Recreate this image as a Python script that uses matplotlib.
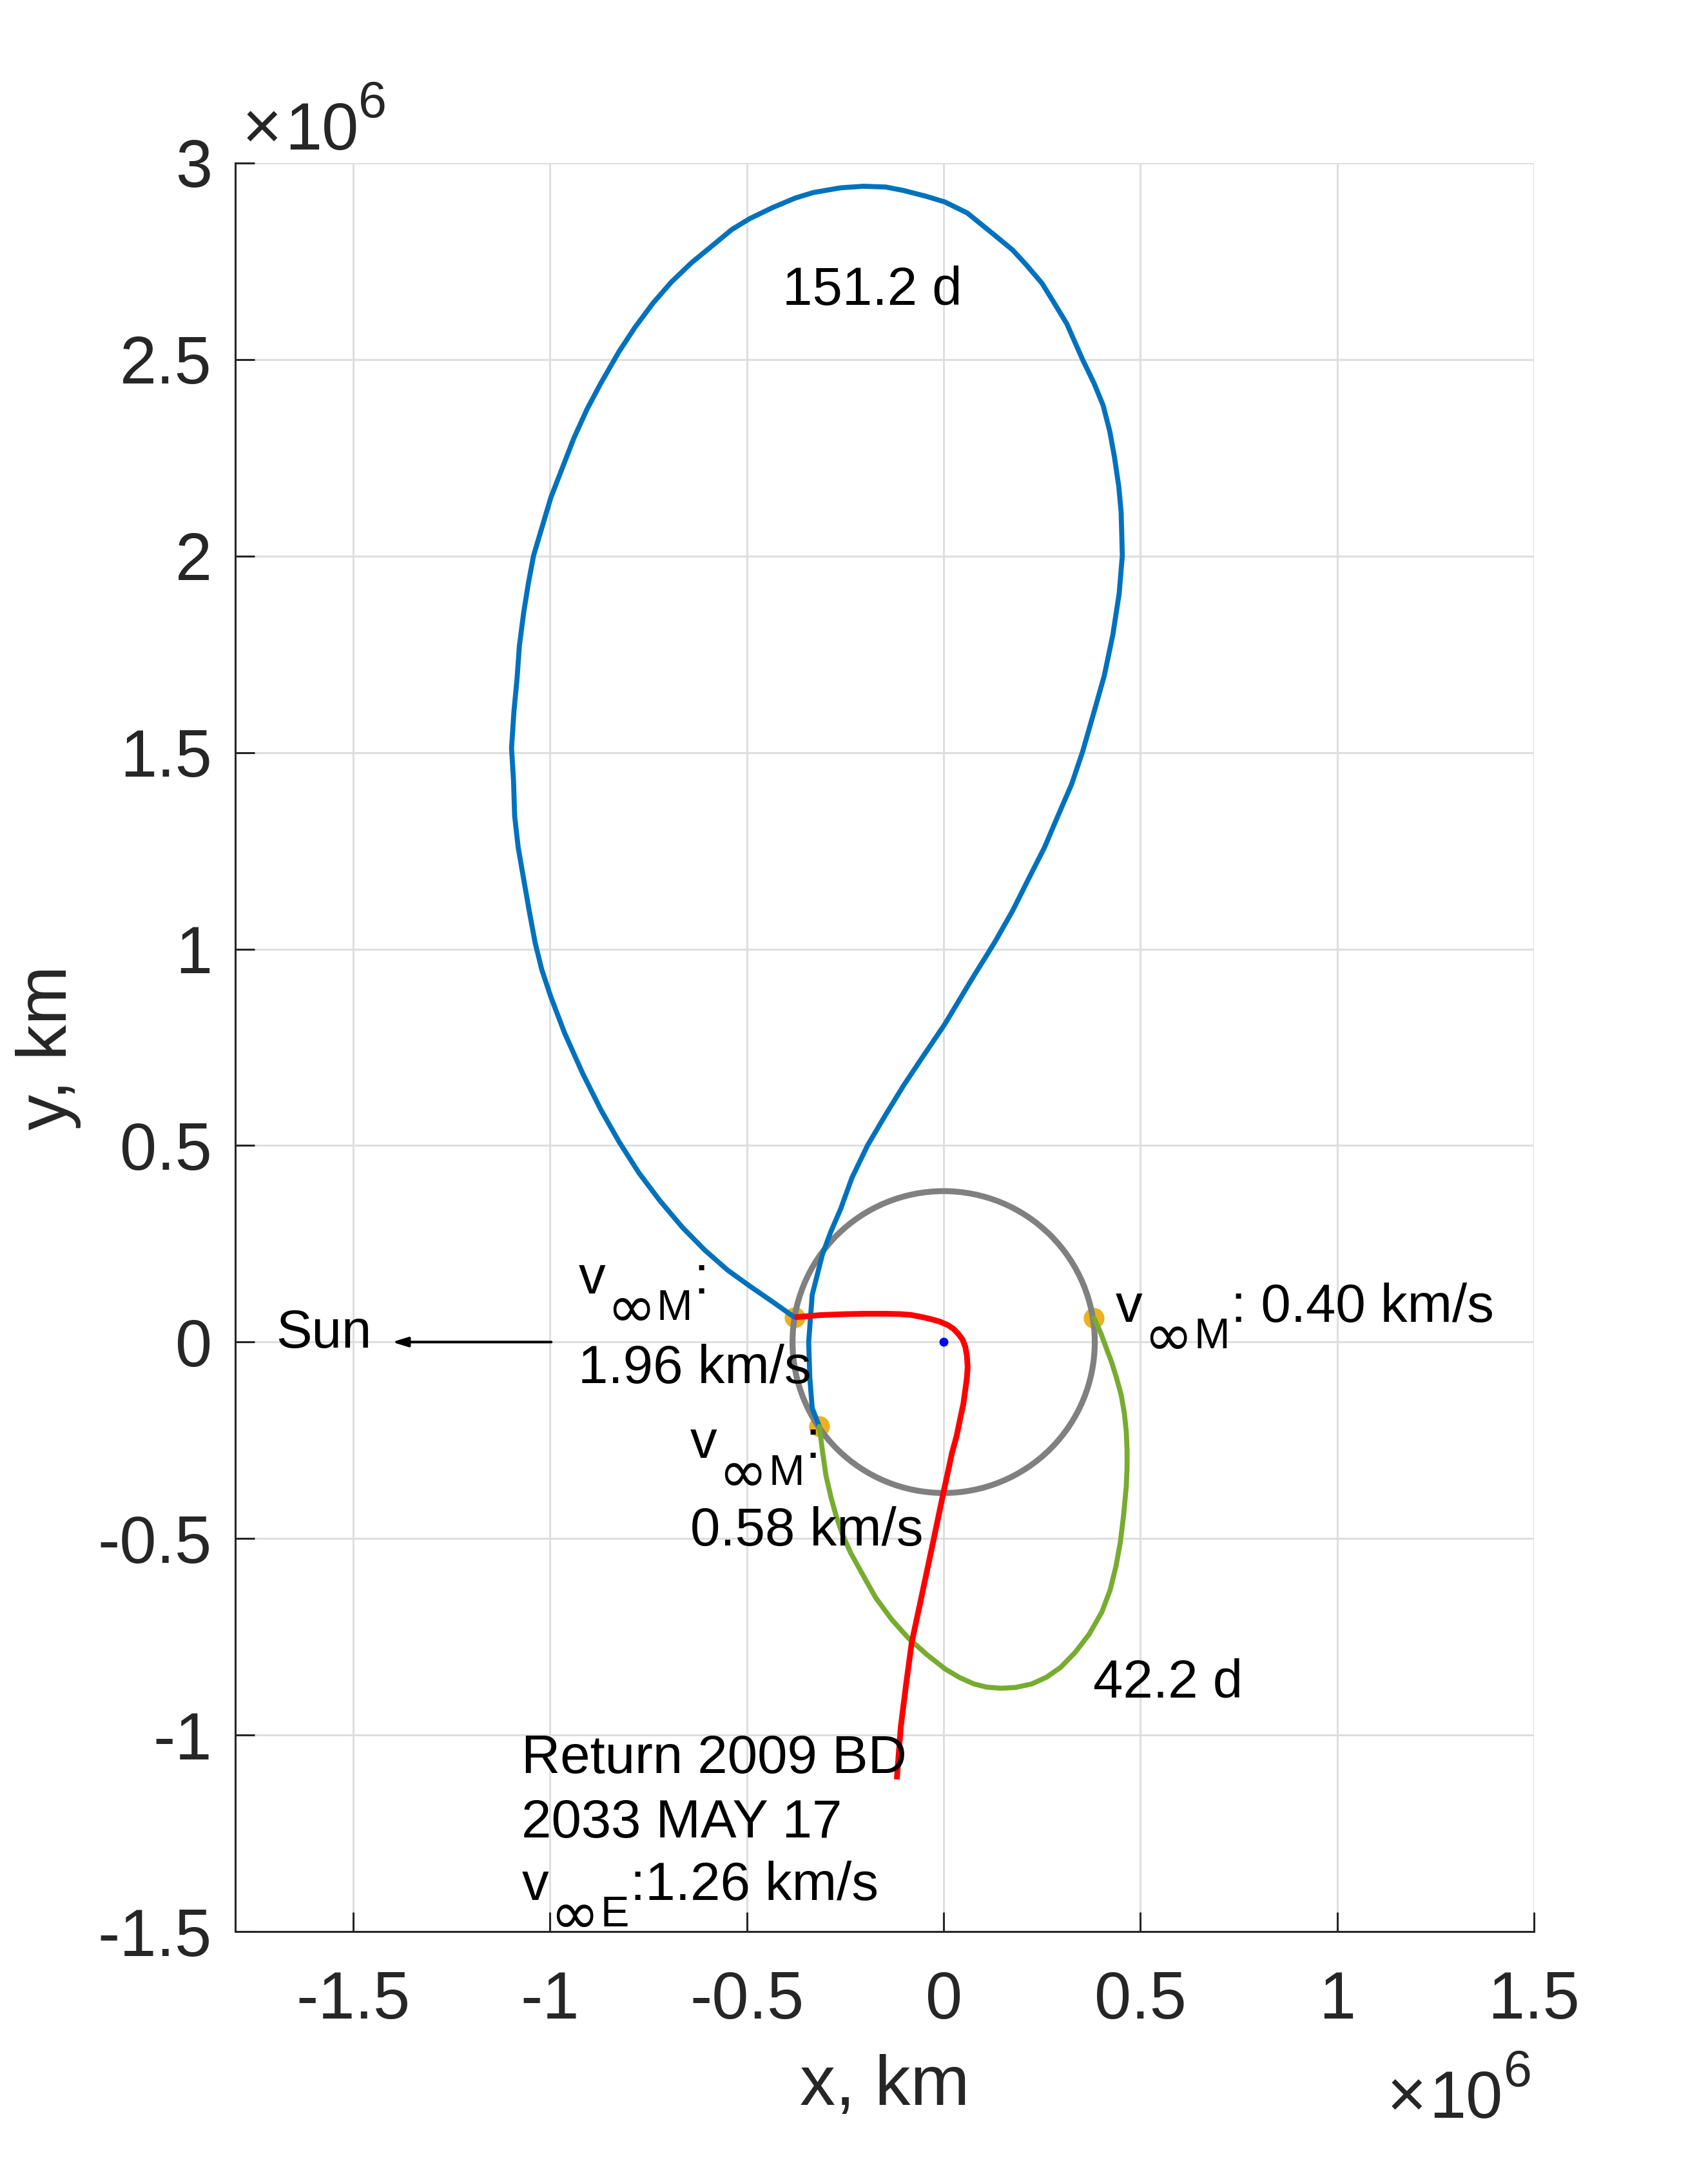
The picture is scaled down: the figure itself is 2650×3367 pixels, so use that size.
import numpy as np
import matplotlib
matplotlib.use('Agg')
import matplotlib.pyplot as plt
from matplotlib.ticker import FixedLocator, FuncFormatter
from matplotlib.patches import Circle

plt.rcParams['font.family'] = ['Liberation Sans', 'DejaVu Sans']

# ---------------- data (units of 1e6 km) ----------------
SCALE = 1e6

# 151.2 d loop (blue)
blue_x = [-0.316, -0.334, -0.340, -0.343, -0.334, -0.308, -0.287, -0.262, -0.233,
          -0.193, -0.147, -0.101, -0.055, 0.003, 0.072, 0.129, 0.175, 0.221, 0.256,
          0.290, 0.325, 0.353, 0.382, 0.408, 0.430, 0.446, 0.454, 0.451,
          0.445, 0.434, 0.422, 0.405, 0.382, 0.353, 0.313, 0.279, 0.250, 0.210,
          0.175, 0.129, 0.060, 0.003, -0.043, -0.101, -0.147, -0.204, -0.262,
          -0.331, -0.377, -0.434, -0.492, -0.538, -0.584, -0.641, -0.692, -0.739,
          -0.785, -0.825, -0.871, -0.906, -0.940, -0.969, -0.998, -1.015, -1.042,
          -1.055, -1.067, -1.078, -1.084, -1.092, -1.098, -1.093, -1.090, -1.081,
          -1.067, -1.053, -1.038, -1.021, -0.998, -0.963, -0.917, -0.871, -0.825,
          -0.774, -0.722, -0.664, -0.607, -0.549, -0.492, -0.434, -0.379]
blue_y = [-0.215, -0.168, -0.092, 0.000, 0.120, 0.223, 0.280, 0.338, 0.418,
          0.501, 0.579, 0.654, 0.723, 0.809, 0.924, 1.016, 1.097, 1.189, 1.258,
          1.338, 1.419, 1.502, 1.603, 1.695, 1.800, 1.905, 2.001, 2.111,
          2.177, 2.252, 2.318, 2.384, 2.440, 2.500, 2.591, 2.647, 2.694, 2.741,
          2.779, 2.817, 2.873, 2.901, 2.915, 2.930, 2.939, 2.941, 2.937,
          2.925, 2.911, 2.887, 2.859, 2.831, 2.793, 2.746, 2.697, 2.643,
          2.581, 2.520, 2.440, 2.374, 2.299, 2.224, 2.149, 2.092, 2.001,
          1.932, 1.857, 1.772, 1.688, 1.603, 1.511, 1.430, 1.338, 1.258,
          1.177, 1.097, 1.016, 0.947, 0.878, 0.786, 0.683, 0.591, 0.510,
          0.430, 0.361, 0.292, 0.234, 0.183, 0.142, 0.102, 0.063]

# 42.2 d loop (green)
green_x = [-0.316, -0.307, -0.299, -0.286, -0.273, -0.257, -0.236, -0.205, -0.173,
           -0.132, -0.090, -0.043, 0.004, 0.041, 0.077, 0.109, 0.145, 0.182, 0.224,
           0.261, 0.297, 0.334, 0.370, 0.402, 0.423, 0.438, 0.449, 0.457, 0.464,
           0.466, 0.466, 0.464, 0.459, 0.451, 0.438, 0.426, 0.412, 0.400, 0.382]
green_y = [-0.215, -0.284, -0.340, -0.396, -0.443, -0.490, -0.537, -0.593, -0.650,
           -0.706, -0.753, -0.795, -0.832, -0.854, -0.870, -0.878, -0.881, -0.879, -0.870,
           -0.853, -0.828, -0.790, -0.743, -0.687, -0.631, -0.570, -0.509, -0.443, -0.368,
           -0.321, -0.274, -0.227, -0.180, -0.134, -0.087, -0.049, -0.012, 0.021, 0.0615]

# return leg (red)
red_x = [-0.379, -0.313, -0.250, -0.198, -0.146, -0.109, -0.083, -0.057, -0.031,
         -0.010, 0.011, 0.025, 0.037, 0.048, 0.055, 0.059, 0.061, 0.059, 0.055,
         0.050, 0.042, 0.033, 0.021, 0.011, 0.0005, -0.027, -0.059, -0.081, -0.095,
         -0.109, -0.119]
red_y = [0.063, 0.0686, 0.071, 0.072, 0.072, 0.071, 0.069, 0.064, 0.058,
         0.052, 0.043, 0.0335, 0.021, 0.0064, -0.012, -0.034, -0.063, -0.092, -0.122,
         -0.158, -0.195, -0.239, -0.283, -0.330, -0.378, -0.510, -0.661, -0.764, -0.868,
         -0.980, -1.113]

# lunar flyby points
flyby_x = [-0.379, 0.382, -0.316]
flyby_y = [0.063, 0.0615, -0.215]

moon_orbit_radius = 0.384
earth_x = [0.0]
earth_y = [0.0]

x_ticks = [-1.5, -1.0, -0.5, 0.0, 0.5, 1.0, 1.5]
y_ticks = [-1.5, -1.0, -0.5, 0.0, 0.5, 1.0, 1.5, 2.0, 2.5, 3.0]
x_limits = [-1.8, 1.5]
y_limits = [-1.5, 3.0]

# ---------------- figure ----------------
W, H, DPI = 2650, 3367, 200
fig = plt.figure(figsize=(W / DPI, H / DPI), dpi=DPI)
ax = fig.add_axes([365 / W, 1 - 2997 / H, (2380 - 365) / W, (2997 - 253) / H])

S = lambda v: np.asarray(v, dtype=float) * SCALE

ax.plot(S(flyby_x), S(flyby_y), 'o', ms=10.6, color='#EDB120', mec='#EDB120', zorder=2)
ax.add_patch(Circle((0, 0), moon_orbit_radius * SCALE, fill=False, ec='#808080',
                    lw=3.3, zorder=3))
ax.plot(S(blue_x), S(blue_y), color='#0072BD', lw=2.8, zorder=4,
        solid_joinstyle='round', solid_capstyle='round')
ax.plot(S(green_x), S(green_y), color='#77AC30', lw=2.8, zorder=5,
        solid_joinstyle='round', solid_capstyle='round')
ax.plot(S(red_x), S(red_y), color='#FF0000', lw=3.2, zorder=6,
        solid_joinstyle='round', solid_capstyle='butt')
ax.plot(S(earth_x), S(earth_y), 'o', ms=4, color='#0000FF', zorder=7)

ax.set_xlim(S(x_limits))
ax.set_ylim(S(y_limits))

fmt = FuncFormatter(lambda v, p: f'{v / SCALE:g}')
ax.xaxis.set_major_locator(FixedLocator(S(x_ticks)))
ax.yaxis.set_major_locator(FixedLocator(S(y_ticks)))
ax.xaxis.set_major_formatter(fmt)
ax.yaxis.set_major_formatter(fmt)

AX_COL = '#262626'
ax.grid(True, color='#dedede', lw=1.1)
ax.set_axisbelow(True)
for side in ['top', 'right']:
    ax.spines[side].set_visible(False)
for side in ['left', 'bottom']:
    ax.spines[side].set_color(AX_COL)
    ax.spines[side].set_linewidth(1.1)
ax.tick_params(direction='in', length=10.8, width=1.1, colors=AX_COL, labelsize=37)
ax.tick_params(axis='x', pad=21.6)
ax.tick_params(axis='y', pad=13)

ax.set_xlabel('x, km', fontsize=39.7, color=AX_COL)
ax.set_ylabel('y, km', fontsize=39.7, color=AX_COL)
ax.xaxis.set_label_coords(0.5, -0.0691)
ax.yaxis.set_label_coords(-0.1188, 0.5)


# exponent labels (x10^6)
def fig_text(px, py, s, fs):
    fig.text(px / W, 1 - py / H, s, fontsize=fs, color=AX_COL, ha='left', va='baseline')


for (xx, x10, x6, base, sup) in [(376, 442.5, 556, 232, 182),
                                 (2152, 2217, 2332.6, 3286, 3237.4)]:
    fig_text(xx, base, '\u00d7', 38)
    fig_text(x10, base, '10', 37)
    fig_text(x6, sup, '6', 28.5)

# ---------------- annotations ----------------
FS = 30
SUB_FS = 24
SUB_DROP = 14.9  # points


def chain(prev, s, y, dy, fs, family=None):
    kw = {}
    if family:
        kw['family'] = family
    return ax.annotate(s, xy=(1, y * SCALE), xycoords=(prev, 'data'),
                       xytext=(0.6, dy), textcoords='offset points',
                       fontsize=fs, ha='left', va='baseline', color='k', zorder=8, **kw)


def vinf_label(x, y, sub, tail):
    t1 = ax.text(x * SCALE, y * SCALE, 'v', fontsize=FS, ha='left', va='baseline',
                 color='k', zorder=8)
    t2 = chain(t1, '\u221e', y, -SUB_DROP - 4.0, 33, family=['DejaVu Sans'])
    t3 = chain(t2, sub, y, -SUB_DROP, SUB_FS)
    chain(t3, tail, y, 0, FS)


def plain(x, y, s):
    ax.text(x * SCALE, y * SCALE, s, fontsize=FS, ha='left', va='baseline',
            color='k', zorder=8)


plain(-0.409, 2.640, '151.2 d')
plain(0.380, -0.904, '42.2 d')
plain(-1.697, -0.014, 'Sun')

vinf_label(-0.928, 0.124, 'M', ':')
plain(-0.928, -0.105, '1.96 km/s')

vinf_label(-0.644, -0.295, 'M', ':')
plain(-0.644, -0.518, '0.58 km/s')

vinf_label(0.437, 0.0515, 'M', ': 0.40 km/s')

plain(-1.073, -1.096, 'Return 2009 BD')
plain(-1.073, -1.260, '2033 MAY 17')
vinf_label(-1.071, -1.419, 'E', ':1.26 km/s')

# Sun direction arrow
ax.annotate('', xy=(-1.401 * SCALE, 0), xytext=(-0.997 * SCALE, 0),
            arrowprops=dict(arrowstyle='-|>,head_length=0.45,head_width=0.14',
                            lw=1.45, color='black', shrinkA=0, shrinkB=0,
                            mutation_scale=16), zorder=8)

fig.savefig('out.png', dpi=DPI)
